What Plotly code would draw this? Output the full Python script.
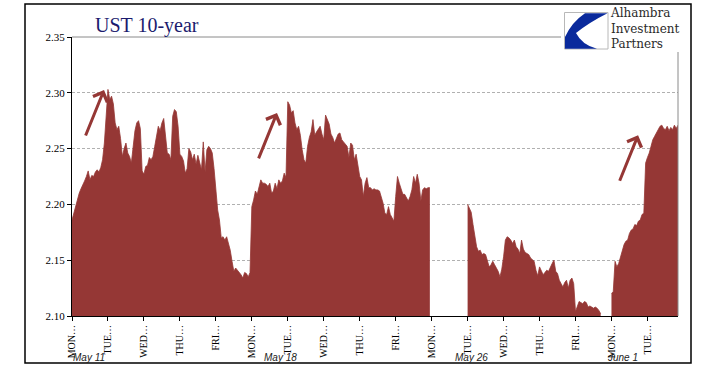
import plotly.graph_objects as go

# ---------------- data (UST 10-year intraday yield, 20 samples per trading day) ----------------
day_names = ["MON", "TUE", "WED", "THU", "FRI",
             "MON", "TUE", "WED", "THU", "FRI",
             "MON", "TUE", "WED", "THU", "FRI",
             "MON", "TUE"]
week_labels = ["May 11", "May 18", "May 26", "June 1"]
week_label_pos = [0.47, 5.8, 11.1, 15.3]

mon_may11 = [2.186, 2.192, 2.200, 2.205, 2.210, 2.214, 2.217, 2.221, 2.225, 2.230,
             2.222, 2.226, 2.225, 2.229, 2.231, 2.229, 2.233, 2.240, 2.255, 2.278]
tue_may12 = [2.303, 2.294, 2.297, 2.290, 2.273, 2.267, 2.270, 2.259, 2.243, 2.250,
             2.255, 2.246, 2.243, 2.237, 2.250, 2.266, 2.273, 2.275, 2.268, 2.230]
wed_may13 = [2.227, 2.234, 2.235, 2.242, 2.240, 2.243, 2.252, 2.262, 2.270, 2.266,
             2.273, 2.277, 2.261, 2.246, 2.245, 2.240, 2.279, 2.285, 2.283, 2.270]
thu_may14 = [2.245, 2.243, 2.239, 2.228, 2.232, 2.250, 2.247, 2.240, 2.245, 2.236,
             2.244, 2.237, 2.231, 2.256, 2.229, 2.249, 2.252, 2.250, 2.246, 2.232]
fri_may15 = [2.214, 2.195, 2.186, 2.170, 2.171, 2.168, 2.171, 2.165, 2.159, 2.149,
             2.140, 2.143, 2.141, 2.140, 2.137, 2.134, 2.139, 2.138, 2.135, 2.139]
mon_may18 = [2.198, 2.204, 2.212, 2.209, 2.216, 2.222, 2.219, 2.219, 2.218, 2.216,
             2.219, 2.210, 2.212, 2.219, 2.214, 2.222, 2.219, 2.221, 2.228, 2.224]
tue_may19 = [2.292, 2.289, 2.282, 2.284, 2.273, 2.267, 2.270, 2.262, 2.249, 2.240,
             2.237, 2.252, 2.260, 2.265, 2.276, 2.262, 2.265, 2.268, 2.270, 2.263]
wed_may20 = [2.258, 2.280, 2.276, 2.272, 2.263, 2.260, 2.255, 2.260, 2.263, 2.264,
             2.258, 2.256, 2.254, 2.252, 2.242, 2.255, 2.253, 2.240, 2.245, 2.234]
thu_may21 = [2.225, 2.222, 2.207, 2.219, 2.224, 2.215, 2.215, 2.213, 2.214, 2.213,
             2.213, 2.212, 2.207, 2.201, 2.192, 2.191, 2.198, 2.191, 2.188, 2.185]
fri_may22 = [2.207, 2.225, 2.219, 2.213, 2.209, 2.209, 2.206, 2.203, 2.207, 2.213,
             2.225, 2.219, 2.227, 2.219, 2.203, 2.213, 2.215, 2.214, 2.215, 2.215]
mon_may25 = [None] * 20  # market holiday
tue_may26 = [2.200, 2.197, 2.193, 2.182, 2.171, 2.162, 2.158, 2.159, 2.155, 2.156,
             2.155, 2.150, 2.144, 2.146, 2.149, 2.146, 2.143, 2.140, 2.135, 2.142]
wed_may27 = [2.153, 2.168, 2.171, 2.170, 2.168, 2.165, 2.168, 2.162, 2.160, 2.156,
             2.168, 2.160, 2.157, 2.156, 2.155, 2.152, 2.150, 2.149, 2.141, 2.136]
thu_may28 = [2.144, 2.141, 2.137, 2.139, 2.141, 2.140, 2.144, 2.147, 2.150, 2.140,
             2.138, 2.132, 2.129, 2.126, 2.130, 2.132, 2.125, 2.132, 2.134, 2.129]
fri_may29 = [2.104, 2.108, 2.113, 2.112, 2.111, 2.113, 2.112, 2.108, 2.109, 2.108,
             2.107, 2.108, 2.107, 2.105, 2.102, None, None, None, None, None]
mon_jun1 = [2.120, 2.122, 2.149, 2.144, 2.147, 2.153, 2.159, 2.164, 2.167, 2.168,
            2.174, 2.177, 2.178, 2.182, 2.181, 2.185, 2.186, 2.191, 2.192, 2.237]
tue_jun2 = [2.242, 2.246, 2.252, 2.258, 2.261, 2.264, 2.267, 2.270, 2.271, 2.268,
            2.267, 2.270, 2.266, 2.269, 2.267, 2.271, 2.268, 2.271]

days = [mon_may11, tue_may12, wed_may13, thu_may14, fri_may15,
        mon_may18, tue_may19, wed_may20, thu_may21, fri_may22,
        mon_may25, tue_may26, wed_may27, thu_may28, fri_may29,
        mon_jun1, tue_jun2]
SAMPLES_PER_DAY = 20

y_ticks = [2.10, 2.15, 2.20, 2.25, 2.30, 2.35]

# arrows: (x in trading days, yield at arrow tip)
arrow_tips = [(0.89, 2.3025), (5.70, 2.282), (15.74, 2.262)]

# ---------------- build continuous segments ----------------
segments = []
cur_x, cur_y = [], []
last_x = 0
for d, vals in enumerate(days):
    for i, v in enumerate(vals):
        xv = d + i / SAMPLES_PER_DAY
        if v is None:
            if cur_x:
                segments.append((cur_x, cur_y))
                cur_x, cur_y = [], []
        else:
            cur_x.append(xv)
            cur_y.append(v)
            last_x = xv
if cur_x:
    segments.append((cur_x, cur_y))

RED = "#953735"
W, H = 705, 375
L, R, T, B = 72, 27, 37, 59
PW, PH = W - L - R, H - T - B


def pp(X, Y):
    """pixel position -> paper coordinates"""
    return (X - L) / PW, (H - B - Y) / PH


fig = go.Figure()
for sx, sy in segments:
    fig.add_trace(go.Scatter(
        x=sx, y=sy, mode="lines", fill="tozeroy",
        line=dict(color=RED, width=0.8), fillcolor=RED,
        hoverinfo="skip", showlegend=False))

serif = "Liberation Serif"

fig.update_layout(
    width=W, height=H,
    margin=dict(l=L, r=R, t=T, b=B),
    paper_bgcolor="white", plot_bgcolor="white",
    showlegend=False,
    xaxis=dict(range=[0, last_x], tickmode="array",
               tickvals=list(range(len(day_names))),
               ticktext=[n + "…" for n in day_names],
               tickangle=-90, ticks="outside", ticklen=4, tickcolor="black",
               tickfont=dict(family=serif, size=10, color="black"),
               showgrid=False, zeroline=False,
               showline=True, linecolor="black", linewidth=1),
    yaxis=dict(range=[2.10, 2.35], tickmode="array", tickvals=y_ticks,
               ticktext=[f"{v:.2f}" for v in y_ticks],
               ticks="outside", ticklen=4, tickcolor="black",
               tickfont=dict(family=serif, size=11, color="black"),
               showgrid=True, gridcolor="#b0b0b0", gridwidth=1, griddash="3px,2px",
               zeroline=False, showline=True, linecolor="black", linewidth=1),
)

shapes = []
# plot-area top and right border
shapes.append(dict(type="line", xref="paper", yref="paper", x0=0, x1=1, y0=1, y1=1,
                   line=dict(color="#8a8a8a", width=1)))
shapes.append(dict(type="line", xref="paper", yref="paper", x0=1, x1=1, y0=0, y1=1,
                   line=dict(color="#8a8a8a", width=1)))
# white backing for logo
x0, y0 = pp(561, 52)
x1, y1 = pp(689, 6)
shapes.append(dict(type="rect", xref="paper", yref="paper", x0=x0, x1=x1, y0=y0, y1=y1,
                   fillcolor="white", line=dict(width=0)))
# logo box
x0, y0 = pp(564.5, 49)
x1, y1 = pp(608, 12.5)
shapes.append(dict(type="rect", xref="paper", yref="paper", x0=x0, x1=x1, y0=y0, y1=y1,
                   fillcolor="white", line=dict(color="#b8b8b8", width=1)))
# logo blue swoosh
pts = [("M", [(585, 13.3)]), ("L", [(607.5, 13.3)]), ("Q", [(590, 22), (576, 33)]),
       ("Q", [(582, 45), (597, 48.8)]), ("L", [(565, 48.8)]), ("L", [(565, 37)]),
       ("Q", [(572, 22), (585, 13.3)])]
path = ""
for cmd, coords in pts:
    path += cmd + " " + " ".join("{:.5f},{:.5f}".format(*pp(X, Y)) for X, Y in coords) + " "
path += "Z"
shapes.append(dict(type="path", xref="paper", yref="paper", path=path,
                   fillcolor="#0a2a9c", line=dict(width=0)))
# outer frame
x0, y0 = pp(25, 363)
x1, y1 = pp(691, 4)
shapes.append(dict(type="rect", xref="paper", yref="paper", x0=x0, x1=x1, y0=y0, y1=y1,
                   line=dict(color="black", width=1.5), fillcolor="rgba(0,0,0,0)"))
fig.update_layout(shapes=shapes)

ann = []
# title
tx, ty = pp(93, 25)
ann.append(dict(text="UST 10-year", xref="paper", yref="paper", x=tx, y=ty,
                xanchor="left", yanchor="middle", showarrow=False,
                font=dict(family=serif, size=20, color="#1b1b6e")))
# logo text
lx, ly = pp(608, 29)
ann.append(dict(text="Alhambra<br>Investment<br>Partners", xref="paper", yref="paper",
                x=lx, y=ly, xanchor="left", yanchor="middle", align="left",
                showarrow=False,
                font=dict(family="DejaVu Serif", size=12, color="#2a2a2a")))
# week labels
_, wy = pp(0, 357)
for lab, xp in zip(week_labels, week_label_pos):
    ann.append(dict(text="<i>" + lab + "</i>", xref="x", yref="paper", x=xp, y=wy,
                    xanchor="center", yanchor="middle", showarrow=False,
                    font=dict(family="Liberation Sans", size=10, color="#222222")))
# arrows
for ax_, ay_ in arrow_tips:
    ann.append(dict(text="", x=ax_, y=ay_, xref="x", yref="y",
                    showarrow=True, arrowhead=4, arrowsize=1, arrowwidth=3,
                    arrowcolor=RED, ax=-19, ay=47, standoff=0))
fig.update_layout(annotations=ann)

fig.write_html("out.html",
               config={"displayModeBar": False},
               post_script="document.body.style.margin='0px';"
                           "document.documentElement.style.overflow='hidden';")
